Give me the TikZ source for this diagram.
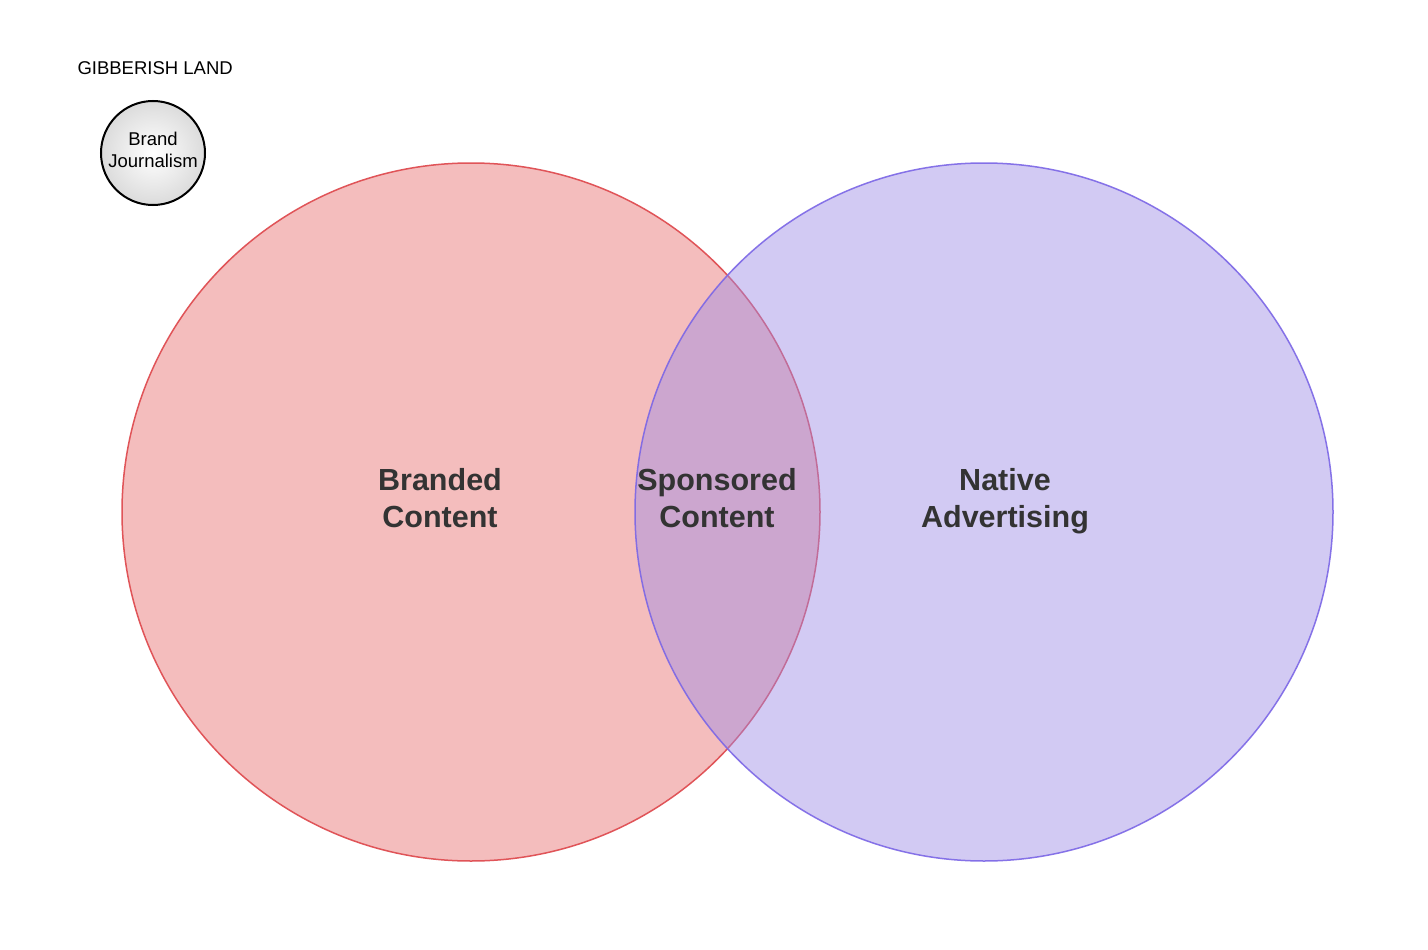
\documentclass[tikz,border=0pt]{standalone}
\usepackage{fontspec}
\setmainfont{Liberation Sans}
\definecolor{redfill}{HTML}{F4BDBD}
\definecolor{redline}{HTML}{E05458}
\definecolor{purfill}{HTML}{9D8BE6}
\definecolor{purline}{HTML}{7B66E6}
\definecolor{txt}{HTML}{333333}
\begin{document}
\begin{tikzpicture}[x=1pt,y=-1pt,
  bigtext/.style={font=\fontsize{30.5}{37}\selectfont\bfseries, text=txt, align=center},
  smalltext/.style={font=\fontsize{18.5}{22}\selectfont, text=black, align=center}]
\useasboundingbox[fill=white] (0,0) rectangle (1428,950);
\node[circle, minimum size=698pt, inner sep=0pt, fill=redfill, draw=redline, line width=1.5pt] (red) at (471,512) {};
\node[circle, minimum size=698pt, inner sep=0pt, fill=purfill, fill opacity=0.45, draw=purline, draw opacity=0.9, line width=1.5pt] (pur) at (984,512) {};
\node[bigtext] (bc) at (440,498) {Branded\\Content};
\node[bigtext] (sc) at (717,498) {Sponsored\\Content};
\node[bigtext] (na) at (1005,501) {Native\\Advertising};
\node[smalltext, anchor=west] (gl) at (74,68) {GIBBERISH LAND};
\node[circle, minimum size=104pt, inner sep=0pt, draw=black, line width=2pt, inner color=white, outer color=black!14] (bj) at (153,153) {};
\node[smalltext] (bjt) at (153,150) {Brand\\Journalism};
\end{tikzpicture}
\end{document}
